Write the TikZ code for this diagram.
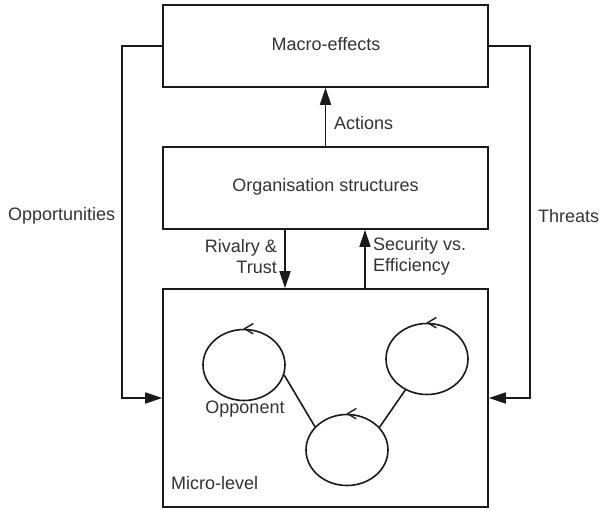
\documentclass[tikz,border=0pt]{standalone}
\usepackage{fontspec}
\setmainfont{Liberation Sans}
\usetikzlibrary{arrows.meta,shapes.geometric}
\definecolor{ln}{HTML}{1A1A1A}
\definecolor{tx}{HTML}{333333}
\tikzset{
  box/.style={draw=ln, line width=1.6pt, rectangle, inner sep=0pt},
  lbl/.style={text=tx, inner sep=0pt, font=\fontsize{18}{21}\selectfont},
  conn/.style={draw=ln, line width=1.6pt},
  arr/.style={conn, -{Triangle[length=17pt,width=11pt]}},
  agent/.style={draw=ln, line width=1.6pt, ellipse, inner sep=0pt, minimum width=82pt, minimum height=71pt},
  barb/.style={draw=ln, line width=1.4pt, line join=round, line cap=round}
}
\begin{document}
\begin{tikzpicture}[x=1pt,y=-1pt]
\useasboundingbox (0,0) rectangle (599,510);
% boxes
\node[box, minimum width=325pt, minimum height=82pt] (macro) at (325.5,46) {};
\node[box, minimum width=325pt, minimum height=82pt] (org) at (325.5,188) {};
\node[box, minimum width=325pt, minimum height=218pt] (micro) at (325.5,398) {};
% box texts
\node[lbl] (tmacro) at (326,44) {Macro-effects};
\node[lbl] (torg) at (325.5,187) {Organisation structures};
\node[lbl, anchor=west] (tmicro) at (171,483) {Micro-level};
% side labels
\node[lbl, anchor=west] (topp) at (8,216) {Opportunities};
\node[lbl, anchor=west] (tthr) at (538,216) {Threats};
\node[lbl, anchor=west] (tact) at (334,123) {Actions};
\node[lbl, anchor=east, align=right] (triv) at (277,256.5) {Rivalry \&\\Trust};
\node[lbl, anchor=west, align=left] (tsec) at (373,256.5) {Security vs.\\Efficiency};
% coordinates for feedback loops
\coordinate (lt) at (122,46);
\coordinate (lb) at (122,398);
\coordinate (rt) at (530,46);
\coordinate (rb) at (530,398);
% connectors
\draw[arr] (org.north) -- (macro.south);
\draw[arr] ([xshift=-40.5pt]org.south) -- ([xshift=-40.5pt]micro.north);
\draw[arr] ([xshift=39.5pt]micro.north) -- ([xshift=39.5pt]org.south);
\draw[arr] (macro.west) -- (lt) -- (lb) -- (micro.west);
\draw[arr] (macro.east) -- (rt) -- (rb) -- (micro.east);
% agents
\node[agent] (c1) at (244,365) {};
\node[agent] (c2) at (427,359) {};
\node[agent] (c3) at (347,450) {};
\node[lbl] (topn) at (245,409) {Opponent};
\draw[conn] (c1.-14) -- (c3.144);
\draw[conn] (c2.-125) -- (c3.35);
% circulation barbs
\foreach \c in {c1,c2,c3}{
  \draw[barb] ([xshift=9pt,yshift=5pt]\c.north) -- ([xshift=0.5pt]\c.north) -- ([xshift=9pt,yshift=-5pt]\c.north);
}
\end{tikzpicture}
\end{document}
